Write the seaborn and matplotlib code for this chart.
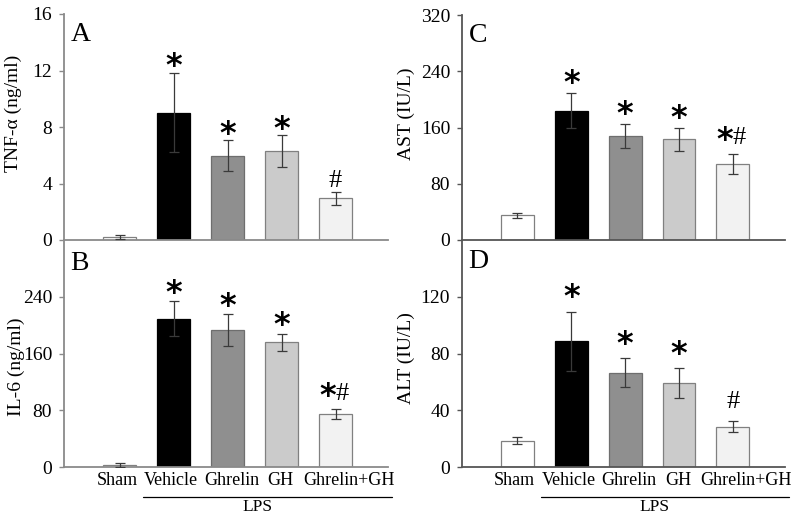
import numpy as np
import pandas as pd
import matplotlib
matplotlib.use("Agg")
import matplotlib.pyplot as plt
import seaborn as sns

groups = ["Sham", "Vehicle", "Ghrelin", "GH", "Ghrelin+GH"]

tnf_mean = [0.2, 9.0, 5.95, 6.3, 2.95]
tnf_err = [0.15, 2.8, 1.1, 1.1, 0.45]
tnf_sig = ["", "*", "*", "*", "#"]

il6_mean = [3.0, 209, 193, 176, 75]
il6_err = [2.5, 25, 22, 12, 7]
il6_sig = ["", "*", "*", "*", "*#"]

ast_mean = [35, 184, 148, 143, 108]
ast_err = [3, 25, 17, 16, 14]
ast_sig = ["", "*", "*", "*", "*#"]

alt_mean = [18.5, 88.5, 66.5, 59, 28.5]
alt_err = [2.3, 21, 10, 10.5, 4]
alt_sig = ["", "*", "*", "*", "#"]

bar_colors = ["#ffffff", "#000000", "#8f8f8f", "#cbcbcb", "#f2f2f2"]
edge_colors = ["#808080", "#000000", "#6e6e6e", "#808080", "#808080"]

sns.set_theme(style="white")
plt.rcParams["font.family"] = ["Liberation Serif", "DejaVu Serif"]
plt.rcParams["text.color"] = "black"
plt.rcParams["axes.labelcolor"] = "black"
plt.rcParams["ytick.color"] = "black"

fig = plt.figure(figsize=(8, 5.14), dpi=100)
W, H = 800, 514

def make_ax(l, t, r, b):
    return fig.add_axes([l / W, (H - b) / H, (r - l) / W, (b - t) / H])

panels = [
    dict(ax=make_ax(64, 14, 388, 240), mean=tnf_mean, err=tnf_err, sig=tnf_sig,
         ylim=16, ticks=[0, 4, 8, 12, 16], label="TNF-α (ng/ml)", letter="A",
         lab=(-0.13, 0.56), xlabels=False, lpos=0.965, spine="#8a8a8a", gap=0),
    dict(ax=make_ax(64, 240, 388, 467), mean=il6_mean, err=il6_err, sig=il6_sig,
         ylim=320, ticks=[0, 80, 160, 240], label="IL-6 (ng/ml)", letter="B",
         lab=(-0.12, 0.44), xlabels=True, lpos=0.95, spine="#8a8a8a", gap=1),
    dict(ax=make_ax(462, 15, 785, 240), mean=ast_mean, err=ast_err, sig=ast_sig,
         ylim=320, ticks=[0, 80, 160, 240, 320], label="AST (IU/L)", letter="C",
         lab=(-0.145, 0.56), xlabels=False, lpos=0.965, spine="#555555", gap=2.5),
    dict(ax=make_ax(462, 240, 785, 467), mean=alt_mean, err=alt_err, sig=alt_sig,
         ylim=160, ticks=[0, 40, 80, 120], label="ALT (IU/L)", letter="D",
         lab=(-0.145, 0.48), xlabels=True, lpos=0.96, spine="#555555", gap=5.5),
]

label_dx = [-0.05, -0.05, 0.07, -0.02, 0.24]

STAR_KW = dict(fontsize=23, family="DejaVu Sans", fontweight="bold",
               va="baseline", color="black")
HASH_KW = dict(fontsize=19, va="baseline", color="black")

for p in panels:
    ax = p["ax"]
    df = pd.DataFrame({"group": groups, "value": p["mean"]})
    sns.barplot(data=df, x="group", y="value", hue="group", palette=bar_colors,
                order=groups, hue_order=groups, legend=False, width=0.61,
                errorbar=None, ax=ax, saturation=1)
    for patch, ec in zip(ax.patches, edge_colors):
        patch.set_edgecolor(ec)
        patch.set_linewidth(0.9)
    x = np.arange(len(groups))
    ax.errorbar(x, p["mean"], yerr=p["err"], fmt="none", ecolor="#3a3a3a",
                elinewidth=0.9, capsize=3.5, capthick=0.9, zorder=5)
    ax.set_xlim(-1.03, 4.97)
    ax.set_ylim(0, p["ylim"])
    ax.set_yticks(p["ticks"])
    ax.set_yticklabels([str(t) for t in p["ticks"]], fontsize=14)
    ax.set_xticks([])
    ax.set_xlabel("")
    ax.set_ylabel(p["label"], fontsize=14)
    ax.yaxis.set_label_coords(*p["lab"])
    for s in ["top", "right"]:
        ax.spines[s].set_visible(False)
    for s in ["left", "bottom"]:
        ax.spines[s].set_color(p["spine"])
        ax.spines[s].set_linewidth(1.3)
    ax.tick_params(axis="y", left=True, length=3.5, width=1, color=p["spine"],
                   pad=5, labelcolor="black")
    ax.patch.set_alpha(0)
    ax.text(0.02, p["lpos"], p["letter"], transform=ax.transAxes, fontsize=20,
            ha="left", va="top")
    g = p["gap"]
    for i, s in enumerate(p["sig"]):
        top = p["mean"][i] + p["err"][i]
        if s == "*":
            ax.annotate("*", (i, top), xytext=(0, -1.5 + g), textcoords="offset points",
                        ha="center", **STAR_KW)
        elif s == "#":
            ax.annotate("#", (i, top), xytext=(0, 3.5 + g), textcoords="offset points",
                        ha="center", **HASH_KW)
        elif s == "*#":
            ax.annotate("*", (i, top), xytext=(0.5, 1.5 + g), textcoords="offset points",
                        ha="right", **STAR_KW)
            ax.annotate("#", (i, top), xytext=(0, 5 + g), textcoords="offset points",
                        ha="left", **HASH_KW)
    if p["xlabels"]:
        for i, lbl in enumerate(groups):
            ax.text(i + label_dx[i], -0.079, lbl, transform=ax.get_xaxis_transform(),
                    ha="center", va="baseline", fontsize=13)
        ax.plot([0.44, 5.05], [-0.132, -0.132], transform=ax.get_xaxis_transform(),
                color="black", lw=0.9, clip_on=False)
        ax.text(2.55, -0.196, "LPS", transform=ax.get_xaxis_transform(),
                ha="center", va="baseline", fontsize=12.5)

fig.savefig("out.png", dpi=100)
